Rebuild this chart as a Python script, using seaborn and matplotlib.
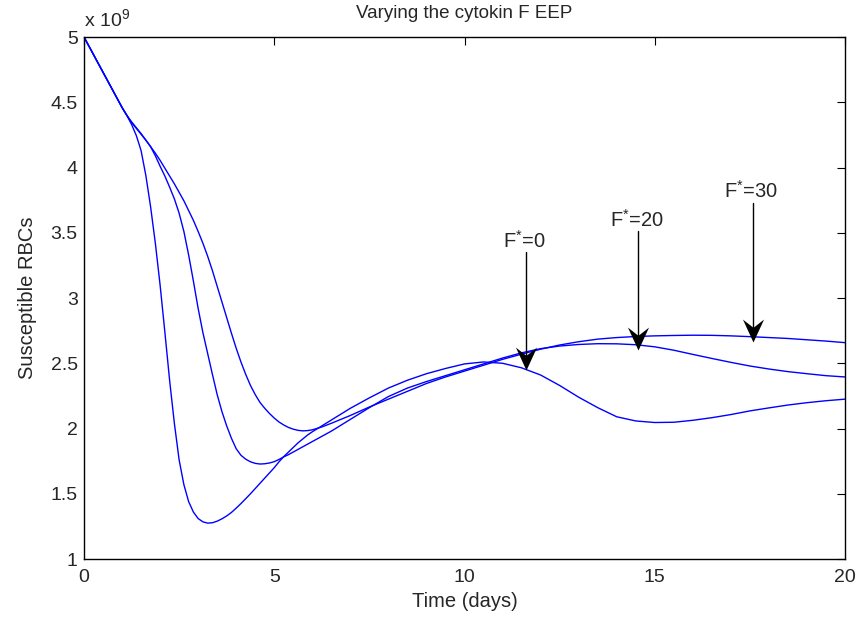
import numpy as np
import pandas as pd
import matplotlib
matplotlib.use("Agg")
import matplotlib.pyplot as plt
from matplotlib.path import Path
import seaborn as sns

# Time grid (days) shared by the three simulations
time = [0.0, 0.25, 0.5, 0.75,
        1.0, 1.125, 1.25, 1.375, 1.5, 1.625, 1.75, 1.875, 2.0, 2.125,
        2.25, 2.375, 2.5, 2.625, 2.75, 2.875, 3.0, 3.125, 3.25, 3.375,
        3.5, 3.625, 3.75, 3.875, 4.0, 4.125, 4.25, 4.375, 4.5, 4.625,
        4.75, 4.875, 5.0, 5.125, 5.25, 5.375, 5.5, 5.625, 5.75, 5.875, 6.0,
        6.25, 6.5, 6.75, 7.0, 7.5, 8.0, 8.5, 9.0, 9.5, 10.0, 10.5, 11.0,
        11.5, 12.0, 12.5, 13.0, 13.5, 14.0, 14.5, 15.0, 15.5, 16.0, 16.5,
        17.0, 17.5, 18.0, 18.5, 19.0, 19.5, 20.0]

# Susceptible RBCs (x 10^9) for each cytokine level F*
rbc_f0 = [5.0, 4.865, 4.73, 4.595,
          4.46, 4.40, 4.33, 4.245, 4.13, 3.94, 3.70, 3.42, 3.10, 2.74,
          2.37, 2.04, 1.76, 1.57, 1.44, 1.36, 1.31, 1.285, 1.275, 1.278,
          1.29, 1.308, 1.33, 1.357, 1.39, 1.425, 1.462, 1.50, 1.54, 1.58,
          1.62, 1.66, 1.70, 1.745, 1.785, 1.82, 1.855, 1.89, 1.92, 1.95, 1.975,
          2.02, 2.065, 2.11, 2.155, 2.235, 2.31, 2.37, 2.42, 2.46, 2.495, 2.51, 2.50,
          2.465, 2.41, 2.33, 2.24, 2.16, 2.09, 2.058, 2.046, 2.048, 2.063, 2.083,
          2.107, 2.135, 2.158, 2.18, 2.198, 2.213, 2.225]
rbc_f20 = [5.0, 4.865, 4.73, 4.595,
           4.46, 4.40, 4.345, 4.30, 4.255, 4.21, 4.16, 4.09, 4.01, 3.935,
           3.85, 3.76, 3.65, 3.51, 3.33, 3.13, 2.92, 2.735, 2.575, 2.415,
           2.26, 2.13, 2.02, 1.925, 1.845, 1.795, 1.765, 1.745, 1.733, 1.728,
           1.73, 1.736, 1.746, 1.763, 1.783, 1.80, 1.82, 1.84, 1.86, 1.88, 1.90,
           1.94, 1.98, 2.025, 2.07, 2.16, 2.245, 2.31, 2.36, 2.405, 2.45, 2.495, 2.54,
           2.58, 2.612, 2.632, 2.644, 2.65, 2.649, 2.642, 2.626, 2.60, 2.568, 2.537,
           2.507, 2.479, 2.456, 2.436, 2.42, 2.405, 2.395]
rbc_f30 = [5.0, 4.865, 4.73, 4.595,
           4.46, 4.40, 4.35, 4.305, 4.26, 4.21, 4.16, 4.11, 4.055, 3.995,
           3.935, 3.875, 3.81, 3.745, 3.67, 3.595, 3.51, 3.42, 3.32, 3.21,
           3.09, 2.97, 2.85, 2.73, 2.615, 2.51, 2.415, 2.33, 2.26, 2.20,
           2.155, 2.115, 2.08, 2.05, 2.027, 2.008, 1.995, 1.986, 1.982, 1.984, 1.99,
           2.012, 2.04, 2.07, 2.10, 2.165, 2.225, 2.285, 2.345, 2.395, 2.44, 2.485, 2.53,
           2.57, 2.608, 2.64, 2.665, 2.685, 2.697, 2.705, 2.71, 2.713, 2.715, 2.714,
           2.71, 2.704, 2.697, 2.69, 2.68, 2.67, 2.658]

levels = ["F*=0", "F*=20", "F*=30"]
labels = [r"F$^{*}$=0", r"F$^{*}$=20", r"F$^{*}$=30"]
# Arrow position (day), tip value and tail value for each label
arrow_t = [11.61, 14.57, 17.57]
arrow_tip = [2.45, 2.60, 2.665]
arrow_tail = [3.35, 3.51, 3.73]

df = pd.DataFrame({
    "Time": time * 3,
    "RBC": rbc_f0 + rbc_f20 + rbc_f30,
    "F": [levels[0]] * len(time) + [levels[1]] * len(time) + [levels[2]] * len(time),
})

sns.set_style("white")
plt.rcParams["font.family"] = ["Liberation Sans", "DejaVu Sans"]
plt.rcParams["mathtext.fontset"] = "custom"
plt.rcParams["mathtext.rm"] = "Liberation Sans"

fig = plt.figure(figsize=(8.65, 6.21), dpi=100)
ax = fig.add_axes([0.0971, 0.0998, 0.8798, 0.8406])

sns.lineplot(data=df, x="Time", y="RBC", hue="F", units="F", estimator=None,
             palette=["#0000ff"] * 3, linewidth=1.0, legend=False, ax=ax, sort=False)

ax.set_xlim(0, 20)
ax.set_ylim(1, 5)
ax.set_xticks([0, 5, 10, 15, 20])
ax.set_yticks([1, 1.5, 2, 2.5, 3, 3.5, 4, 4.5, 5])
ax.set_yticklabels(["1", "1.5", "2", "2.5", "3", "3.5", "4", "4.5", "5"])
ax.tick_params(direction="in", length=6, width=0.8, top=True, right=True,
               labelsize=14, color="black")
ax.tick_params(axis="x", pad=7.5)
ax.tick_params(axis="y", pad=4.5)
for s in ax.spines.values():
    s.set_visible(True)
    s.set_color("black")
    s.set_linewidth(1.0)

ax.set_xlabel("Time (days)", fontsize=14.5, labelpad=4)
ax.set_ylabel("Susceptible RBCs", fontsize=14.5, labelpad=10)
ax.set_title("Varying the cytokin F EEP", fontsize=13.5, pad=14)
ax.text(0.0, 1.012, r"x 10$^{9}$", transform=ax.transAxes, fontsize=14,
        ha="left", va="bottom")

# Concave arrowhead pointing down, tip at the marker origin
vee = Path([(0, 0), (-0.46, 1.0), (0, 0.64), (0.46, 1.0), (0, 0)],
           [Path.MOVETO, Path.LINETO, Path.LINETO, Path.LINETO, Path.CLOSEPOLY])

for lab, t, tip, tail in zip(labels, arrow_t, arrow_tip, arrow_tail):
    ax.plot([t, t], [tail, tip + 0.05], color="black", lw=1.0)
    ax.plot([t], [tip], marker=vee, markersize=33, color="black",
            markeredgewidth=0, linestyle="none")
    ax.text(t - 0.05, tail + 0.035, lab, fontsize=14.5, ha="center", va="baseline")

fig.savefig("out.png", dpi=100)
